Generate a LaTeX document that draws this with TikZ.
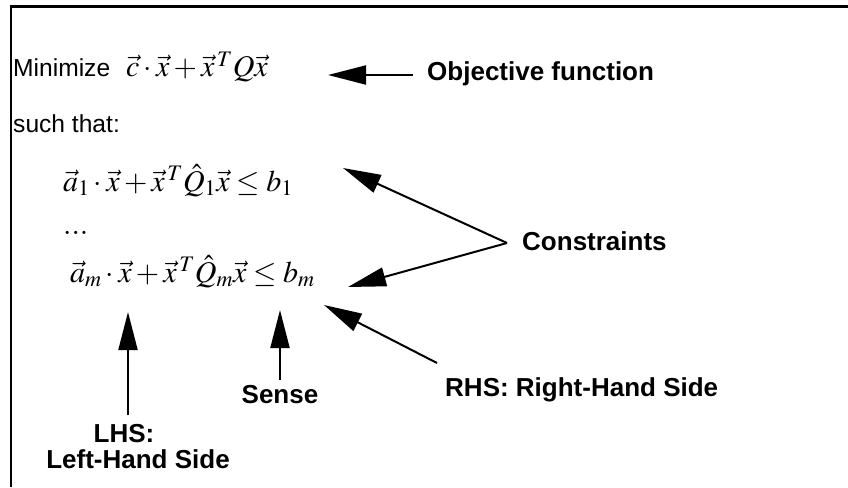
\documentclass[tikz,border=0pt]{standalone}
\usepackage{mathptmx}
\usepackage[no-math]{fontspec}
\setmainfont{Liberation Sans}
\usetikzlibrary{arrows.meta}
\tikzset{
  lbl/.style={font=\fontsize{26}{30}\selectfont\bfseries, inner sep=0pt},
  txt/.style={font=\fontsize{24.6}{29}\selectfont, inner sep=0pt, anchor=base west},
  eq/.style={font=\fontsize{30}{34}\selectfont, inner sep=0pt, anchor=base west},
  arr/.style={line width=2pt, -{Triangle[length=38pt,width=19pt]}},
  frame/.style={line width=2.5pt},
}
\begin{document}
\begin{tikzpicture}[x=1pt,y=-1pt]
\useasboundingbox (0,0) rectangle (848,487);
\draw[frame] (11,487) -- (11,6.5) -- (848,6.5);

\node[txt] (min) at (13,76) {Minimize};
\node[eq] (obj) at (126,77) {$\vec{c}\cdot\vec{x}+\vec{x}^{\,T}Q\vec{x}$};
\node[lbl, anchor=base west] (objl) at (427,80) {Objective function};
\coordinate (objtip) at (328,75);
\coordinate (objtail) at (413,75);
\draw[arr] (objtail) -- (objtip);

\node[txt] (st) at (13,132) {such that:};
\node[eq] (c1) at (63,191) {$\vec{a}_1\cdot\vec{x}+\vec{x}^{\,T}\hat{Q}_1\vec{x}\le b_1$};
\node[eq] (dots) at (63,234) {$...$};
\node[eq] (cm) at (70,282) {$\vec{a}_m\cdot\vec{x}+\vec{x}^{\,T}\hat{Q}_m\vec{x}\le b_m$};

\coordinate (junc) at (507,243);
\coordinate (tip1) at (343,168);
\coordinate (tipm) at (348,287);
\node[lbl, anchor=base west] (cons) at (522,250) {Constraints};
\draw[arr] (junc) -- (tip1);
\draw[arr] (junc) -- (tipm);

\coordinate (lhstip) at (128,312);
\coordinate (lhstail) at (128,415);
\draw[arr] (lhstail) -- (lhstip);
\node[lbl, anchor=base] (lhs1) at (124,442) {LHS:};
\node[lbl, anchor=base] (lhs2) at (138,468) {Left-Hand Side};

\coordinate (sensetip) at (280,310);
\coordinate (sensetail) at (280,380);
\draw[arr] (sensetail) -- (sensetip);
\node[lbl, anchor=base] (sense) at (280,403) {Sense};

\coordinate (rhstip) at (324,305);
\coordinate (rhstail) at (437,363);
\draw[arr] (rhstail) -- (rhstip);
\node[lbl, anchor=base west] (rhs) at (445,396) {RHS: Right-Hand Side};
\end{tikzpicture}
\end{document}
